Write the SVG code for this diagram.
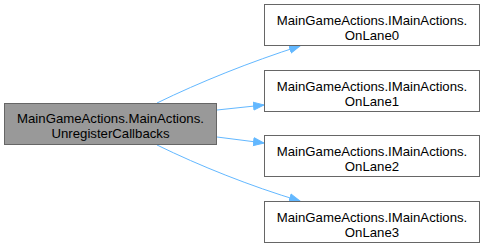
<svg xmlns="http://www.w3.org/2000/svg" width="485" height="247" viewBox="0 0 485 247">
  <style>
    .node rect { stroke: #666666; stroke-width: 1; }
    .node text { font-family: "Liberation Sans", Arial, sans-serif; font-size: 13.2px; fill: #000000; text-anchor: middle; }
    .edge { fill: none; stroke: #63b8ff; stroke-width: 1; }
  </style>
  <defs>
    <marker id="arrow" markerWidth="12" markerHeight="10" refX="11" refY="5" orient="auto" markerUnits="userSpaceOnUse">
      <path d="M0.5,1 L11,5 L0.5,9 Z" fill="#63b8ff" stroke="#63b8ff" stroke-width="1"/>
    </marker>
  </defs>
  <rect width="485" height="247" fill="#ffffff"/>

  <g id="connectors">
    <path class="edge" marker-end="url(#arrow)" d="M157,103 C200,82 250,62 300,46"/>
    <path class="edge" marker-end="url(#arrow)" d="M217,110 L264,105"/>
    <path class="edge" marker-end="url(#arrow)" d="M217,137 L264,143"/>
    <path class="edge" marker-end="url(#arrow)" d="M157,145 C200,166 250,186 300,201"/>
  </g>

  <g id="node-main" class="node">
    <rect x="4.5" y="103.5" width="212" height="41" fill="#999999"/>
    <text x="110.5" y="122.5">MainGameActions.MainActions.</text>
    <text x="110.5" y="137.5">UnregisterCallbacks</text>
  </g>

  <g id="node-lane0" class="node">
    <rect x="264.5" y="4.5" width="215" height="41" fill="#ffffff"/>
    <text x="372" y="24.5">MainGameActions.IMainActions.</text>
    <text x="372" y="39.5">OnLane0</text>
  </g>

  <g id="node-lane1" class="node">
    <rect x="264.5" y="70.5" width="215" height="41" fill="#ffffff"/>
    <text x="372" y="90.5">MainGameActions.IMainActions.</text>
    <text x="372" y="105.5">OnLane1</text>
  </g>

  <g id="node-lane2" class="node">
    <rect x="264.5" y="135.5" width="215" height="41" fill="#ffffff"/>
    <text x="372" y="155.5">MainGameActions.IMainActions.</text>
    <text x="372" y="170.5">OnLane2</text>
  </g>

  <g id="node-lane3" class="node">
    <rect x="264.5" y="201.5" width="215" height="41" fill="#ffffff"/>
    <text x="372" y="221.5">MainGameActions.IMainActions.</text>
    <text x="372" y="236.5">OnLane3</text>
  </g>
</svg>
